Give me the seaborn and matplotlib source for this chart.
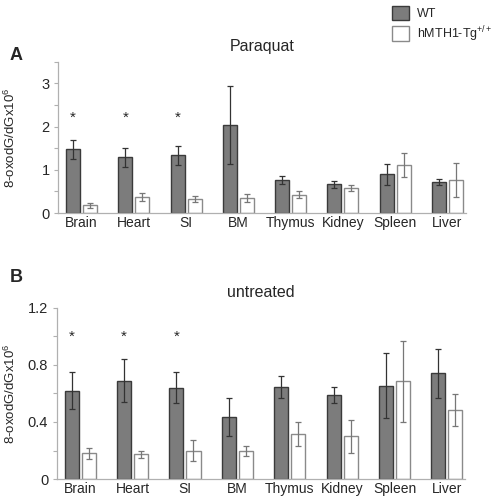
import matplotlib
matplotlib.use("Agg")
import matplotlib.pyplot as plt
import matplotlib.transforms as mtrans
import seaborn as sns
import pandas as pd
import numpy as np
from matplotlib.patches import Patch

sns.set_style("white")
plt.rcParams['font.family'] = ['Liberation Sans', 'DejaVu Sans']
plt.rcParams['mathtext.fontset'] = 'custom'
plt.rcParams['mathtext.rm'] = 'Liberation Sans'
plt.rcParams['mathtext.it'] = 'Liberation Sans:italic'
plt.rcParams['mathtext.bf'] = 'Liberation Sans:bold'

tissues = ["Brain", "Heart", "SI", "BM", "Thymus", "Kidney", "Spleen", "Liver"]
groups = ["WT", "hMTH1-Tg$^{+/+}$"]

# Panel A: Paraquat
para_wt = [1.48, 1.29, 1.34, 2.03, 0.76, 0.67, 0.90, 0.72]
para_wt_err = [0.22, 0.22, 0.22, 0.90, 0.09, 0.08, 0.24, 0.07]
para_tg = [0.18, 0.37, 0.32, 0.34, 0.42, 0.59, 1.12, 0.77]
para_tg_err = [0.06, 0.10, 0.07, 0.09, 0.08, 0.07, 0.28, 0.40]
para_sig = ["Brain", "Heart", "SI"]

# Panel B: untreated
untr_wt = [0.62, 0.69, 0.64, 0.435, 0.644, 0.588, 0.655, 0.74]
untr_wt_err = [0.13, 0.15, 0.11, 0.13, 0.078, 0.057, 0.23, 0.175]
untr_tg = [0.18, 0.175, 0.20, 0.20, 0.315, 0.30, 0.685, 0.485]
untr_tg_err = [0.04, 0.025, 0.077, 0.035, 0.083, 0.117, 0.285, 0.112]
untr_sig = ["Brain", "Heart", "SI"]

wt_fill, wt_edge, wt_errc = "#7c7c7c", "#3a3a3a", "#333333"
tg_fill, tg_edge, tg_errc = "#ffffff", "#8a8a8a", "#777777"
axis_col = "#b0b0b0"

fig = plt.figure(figsize=(4.96, 4.99), dpi=100)

def panel(rect, wt, wt_err, tg, tg_err, sig, ylim, major, minor, title, star_y, letter, letter_y):
    ax = fig.add_axes(rect)
    df = pd.DataFrame({
        "tissue": tissues * 2,
        "group": [groups[0]] * len(tissues) + [groups[1]] * len(tissues),
        "value": list(wt) + list(tg),
    })
    sns.barplot(data=df, x="tissue", y="value", hue="group", order=tissues,
                hue_order=groups, palette=[wt_fill, tg_fill], errorbar=None,
                width=0.65, gap=0.17, legend=False, ax=ax, linewidth=1.0)
    patches = ax.patches[:2 * len(tissues)]
    for i, p in enumerate(patches):
        if i < len(tissues):
            p.set_edgecolor(wt_edge)
        else:
            p.set_edgecolor(tg_edge)
    xs_wt = [p.get_x() + p.get_width() / 2 for p in patches[:len(tissues)]]
    xs_tg = [p.get_x() + p.get_width() / 2 for p in patches[len(tissues):]]
    ax.errorbar(xs_wt, wt, yerr=wt_err, fmt="none", ecolor=wt_errc, elinewidth=0.9,
                capsize=2.5, capthick=0.9, zorder=5)
    ax.errorbar(xs_tg, tg, yerr=tg_err, fmt="none", ecolor=tg_errc, elinewidth=0.9,
                capsize=2.5, capthick=0.9, zorder=5)
    for t in sig:
        i = tissues.index(t)
        ax.text(xs_wt[i], star_y, "*", ha="center", va="center", fontsize=11)
    ax.set_xlim(-0.45, 7.35)
    ax.set_ylim(*ylim)
    ax.set_yticks(major)
    ax.set_yticks(minor, minor=True)
    ax.set_yticklabels([("%g" % v) if v != 1.2 else "1.2" for v in major], fontsize=10.5)
    ax.tick_params(axis="y", which="both", left=True, length=3, width=0.8, color=axis_col, pad=3)
    ax.tick_params(axis="x", length=0, pad=2, labelsize=10)
    ax.set_xlabel("")
    ax.set_ylabel("8-oxodG/dGx10$^{6}$", fontsize=9.5)
    ax.yaxis.set_label_coords(0.036, 0.5,
                              transform=mtrans.blended_transform_factory(fig.transFigure, ax.transAxes))
    sns.despine(ax=ax)
    for s in ["left", "bottom"]:
        ax.spines[s].set_color(axis_col)
        ax.spines[s].set_linewidth(0.9)
    ax.set_title(title, fontsize=11.5, pad=7.5)
    fig.text(0.02, letter_y, letter, fontsize=13, fontweight="bold", ha="left", va="center")
    return ax

panel([0.117, 0.573, 0.822, 0.303], para_wt, para_wt_err, para_tg, para_tg_err, para_sig,
      (0, 3.5), [0, 1, 2, 3], [0.5, 1.5, 2.5, 3.5], "Paraquat", 2.2, "A", 0.889)
panel([0.114, 0.040, 0.824, 0.343], untr_wt, untr_wt_err, untr_tg, untr_tg_err, untr_sig,
      (0, 1.2), [0, 0.4, 0.8, 1.2], [0.2, 0.6, 1.0], "untreated", 1.0, "B", 0.443)

handles = [Patch(facecolor=wt_fill, edgecolor=wt_edge, linewidth=1.0),
           Patch(facecolor=tg_fill, edgecolor=tg_edge, linewidth=1.0)]
fig.legend(handles, groups, loc="upper left", bbox_to_anchor=(0.772, 1.006), frameon=False,
           fontsize=9, handlelength=1.4, handleheight=1.4, handletextpad=0.6,
           labelspacing=0.3, borderpad=0.2)

fig.savefig("out.png", dpi=100)
